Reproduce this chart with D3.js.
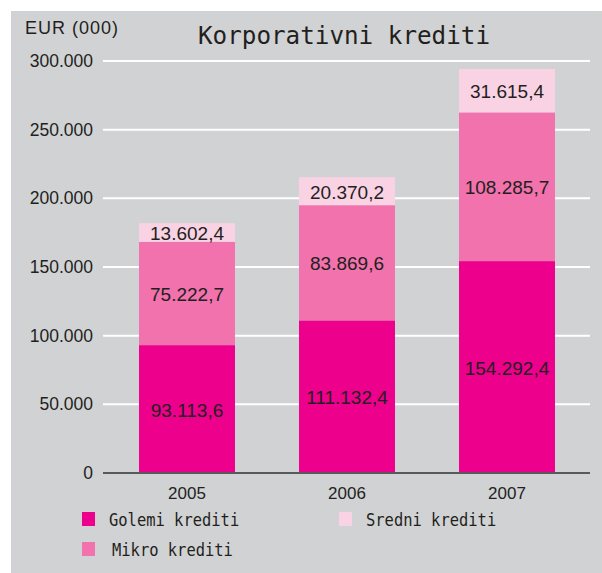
<!DOCTYPE html>
<html>
<head>
<meta charset="utf-8">
<script src="https://cdn.jsdelivr.net/npm/d3@7"></script>
<style>
body{margin:0;background:#fff;}
text{fill:#231f20;}
</style>
</head>
<body>
<div id="chart"></div>
<script>
var w=602
var h=573

//Data
var years=["2005","2006","2007"]
var golemi=[93113.6,111132.4,154292.4]
var mikro=[75222.7,83869.6,108285.7]
var sredni=[13602.4,20370.2,31615.4]
var seriesNames=["Golemi krediti","Mikro krediti","Sredni krediti"]
var seriesColors=["#ec008c","#f172ac","#f9d3e3"]
var yTicks=[0,50000,100000,150000,200000,250000,300000]

var locale=d3.formatLocale({decimal:",",thousands:".",grouping:[3],currency:["","€"]})
var fmtVal=locale.format(",.1f")
var fmtTick=locale.format(",.0f")

var svg=d3.select("#chart")
          .append("svg")
          .attr("width",w)
          .attr("height",h);

//grey panel
svg.append("rect")
   .attr("x",11)
   .attr("y",11)
   .attr("width",w-11)
   .attr("height",h-11)
   .attr("fill","#d1d2d4");

var xScale=d3.scaleBand()
             .domain(years)
             .range([107,587])
             .paddingInner(0.4)
             .paddingOuter(0.2);

var yScale=d3.scaleLinear()
             .domain([0,300000])
             .range([473,61]);

//gridlines
svg.append("g")
   .selectAll("line")
   .data(yTicks.filter(function(d){return d>0;}))
   .enter()
   .append("line")
   .attr("x1",103)
   .attr("x2",590)
   .attr("y1",function(d){return yScale(d);})
   .attr("y2",function(d){return yScale(d);})
   .attr("stroke","#ffffff")
   .attr("stroke-width",2);

//y tick labels
svg.append("g")
   .selectAll("text")
   .data(yTicks)
   .enter()
   .append("text")
   .attr("x",93)
   .attr("y",function(d){return yScale(d);})
   .attr("text-anchor","end")
   .attr("dominant-baseline","central")
   .style("font-family","'Liberation Sans',Arial,sans-serif")
   .style("font-size","17.5px")
   .text(function(d){return fmtTick(d);});

//stack
var table=years.map(function(y,i){
    return {year:y,g:golemi[i],m:mikro[i],s:sredni[i]};
});
var stack=d3.stack().keys(["g","m","s"]);
var layers=stack(table);

var groups=svg.append("g")
              .selectAll("g")
              .data(layers)
              .enter()
              .append("g")
              .attr("fill",function(d,i){return seriesColors[i];});

groups.selectAll("rect")
      .data(function(d){return d;})
      .enter()
      .append("rect")
      .attr("x",function(d){return xScale(d.data.year);})
      .attr("width",xScale.bandwidth())
      .attr("y",function(d){return yScale(d[1]);})
      .attr("height",function(d){return yScale(d[0])-yScale(d[1]);});

//value labels
var labels=svg.append("g");
layers.forEach(function(layer){
    layer.forEach(function(d){
        labels.append("text")
              .attr("x",xScale(d.data.year)+xScale.bandwidth()/2)
              .attr("y",(yScale(d[0])+yScale(d[1]))/2+1)
              .attr("text-anchor","middle")
              .attr("dominant-baseline","central")
              .style("font-family","'Liberation Sans',Arial,sans-serif")
              .style("font-size","19px")
              .text(fmtVal(d[1]-d[0]));
    });
});

//x axis line
svg.append("line")
   .attr("x1",103)
   .attr("x2",590)
   .attr("y1",yScale(0))
   .attr("y2",yScale(0))
   .attr("stroke","#58595b")
   .attr("stroke-width",2);

//year labels
svg.append("g")
   .selectAll("text")
   .data(years)
   .enter()
   .append("text")
   .attr("x",function(d){return xScale(d)+xScale.bandwidth()/2;})
   .attr("y",yScale(0)+20)
   .attr("text-anchor","middle")
   .attr("dominant-baseline","central")
   .style("font-family","'Liberation Sans',Arial,sans-serif")
   .style("font-size","17px")
   .text(function(d){return d;});

//unit label
svg.append("text")
   .attr("x",25)
   .attr("y",28)
   .attr("dominant-baseline","central")
   .style("font-family","'Liberation Sans',Arial,sans-serif")
   .style("font-size","18px")
   .style("letter-spacing","1px")
   .text("EUR (000)");

//title
svg.append("text")
   .attr("x",344)
   .attr("y",36)
   .attr("text-anchor","middle")
   .attr("dominant-baseline","central")
   .style("font-family","'DejaVu Sans Mono',monospace")
   .style("font-size","24px")
   .attr("textLength",292)
   .attr("lengthAdjust","spacingAndGlyphs")
   .text("Korporativni krediti");

//legend: Golemi, Sredni on first row, Mikro on second
var legendOrder=[0,2,1]
var legend=svg.append("g");
legendOrder.forEach(function(si,k){
    var col=k==1?1:0;
    var row=k==2?1:0;
    var lx=82+col*257;
    var ly=512+row*30;
    legend.append("rect")
          .attr("x",lx)
          .attr("y",ly)
          .attr("width",13)
          .attr("height",14)
          .attr("fill",seriesColors[si]);
    legend.append("text")
          .attr("x",lx+27+(row==1?3:0))
          .attr("y",ly+7)
          .attr("dominant-baseline","central")
          .style("font-family","'DejaVu Sans Mono',monospace")
          .style("font-size","18.5px")
          .attr("textLength",seriesNames[si].length*9.3)
          .attr("lengthAdjust","spacingAndGlyphs")
          .text(seriesNames[si]);
});
</script>
</body>
</html>
